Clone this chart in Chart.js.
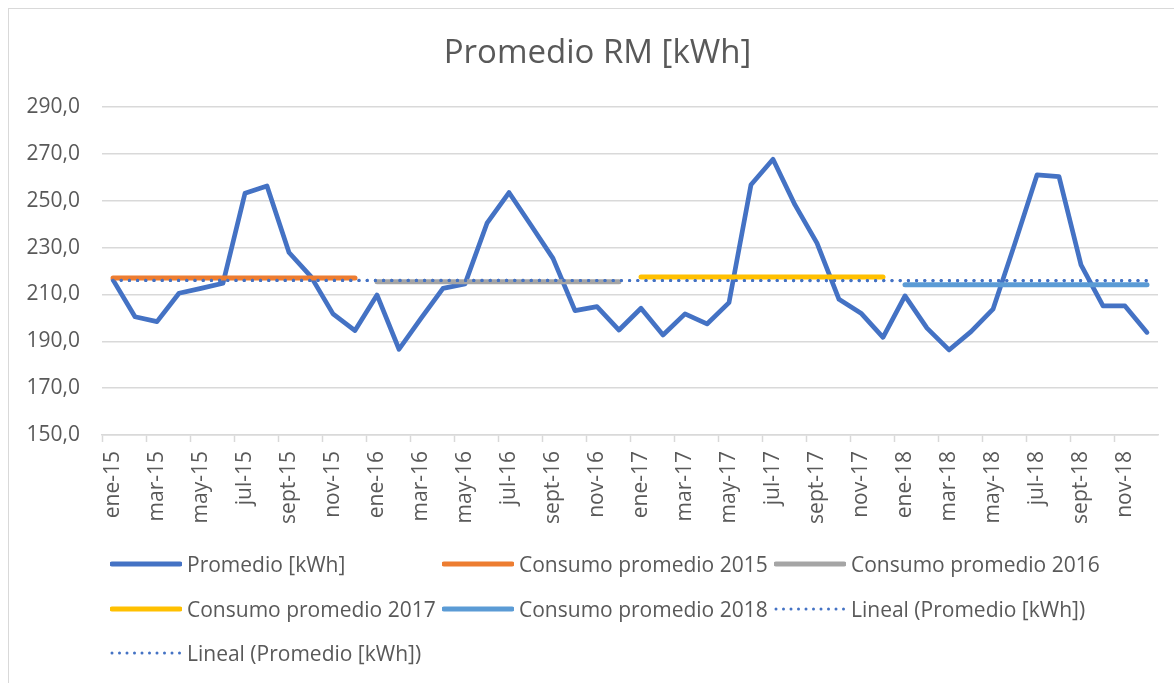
<!DOCTYPE html>
<html>
<head>
<meta charset="utf-8">
<script src="https://cdn.jsdelivr.net/npm/chart.js@4"></script>
<style>
  html, body { margin: 0; padding: 0; background: #fff; }
  #wrap { position: relative; width: 1174px; height: 683px; overflow: hidden; font-family: 'Open Sans', sans-serif; }
  #frame { position: absolute; left: 8px; top: 8px; width: 1200px; height: 700px; border: 1px solid #d9d9d9; box-sizing: border-box; }
  #chart { position: absolute; left: 0; top: 0; }
  .leg { position: absolute; height: 26px; display: flex; align-items: center; color: #595959; font-size: 21px; white-space: nowrap; }
  .leg svg { margin-right: 5px; }
</style>
</head>
<body>
<div id="wrap">
  <div id="frame"></div>
  <!-- canvas runs past the right edge like the cropped Excel frame, so the title centres where it did there -->
  <canvas id="chart" width="1195" height="683"></canvas>
  <div id="legend"></div>
</div>
<script>
// months ene-15 .. dic-18
const months = [
  'ene-15','feb-15','mar-15','abr-15','may-15','jun-15','jul-15','ago-15','sept-15','oct-15','nov-15','dic-15',
  'ene-16','feb-16','mar-16','abr-16','may-16','jun-16','jul-16','ago-16','sept-16','oct-16','nov-16','dic-16',
  'ene-17','feb-17','mar-17','abr-17','may-17','jun-17','jul-17','ago-17','sept-17','oct-17','nov-17','dic-17',
  'ene-18','feb-18','mar-18','abr-18','may-18','jun-18','jul-18','ago-18','sept-18','oct-18','nov-18','dic-18'
];

const promedio = [
  216.2, 200.5, 198.4, 210.5, 212.6, 214.8, 253.2, 256.3, 227.9, 217.6, 201.7, 194.6,
  209.8, 186.6, 199.8, 212.6, 214.5, 240.4, 253.5, 239.5, 225.4, 203.1, 204.8, 194.8,
  204.1, 192.7, 201.7, 197.4, 206.5, 256.8, 267.7, 248.2, 231.9, 207.9, 202.0, 191.7,
  209.4, 195.6, 186.3, 194.1, 203.7, 231.9, 261.0, 260.3, 222.6, 205.1, 205.1, 193.8
];

const years = ['2015', '2016', '2017', '2018'];
const yearAverages = [217.0, 215.4, 217.4, 214.1];
const yearColors = ['#ED7D31', '#A5A5A5', '#FFC000', '#5B9BD5'];

// trend line end values (first and last month)
const trendEnds = [216.0, 215.9];

const yTicks = [150, 170, 190, 210, 230, 250, 270, 290];

const gridColor = '#d9d9d9';
const textColor = '#595959';

Chart.defaults.font.family = "'Open Sans', sans-serif";
Chart.defaults.color = textColor;

// one flat segment per year
function yearLine(y) {
  return months.map((m, i) => Math.floor(i / 12) === y ? yearAverages[y] : null);
}
function trendLine() {
  return months.map((m, i) => i === 0 ? trendEnds[0] : (i === months.length - 1 ? trendEnds[1] : null));
}

const datasets = [
  {
    label: 'Promedio [kWh]',
    data: promedio,
    borderColor: '#4472C4',
    borderWidth: 4.7,
    borderJoinStyle: 'round',
    borderCapStyle: 'round',
    order: 10
  }
];
years.forEach((yr, y) => {
  datasets.push({
    label: 'Consumo promedio ' + yr,
    data: yearLine(y),
    borderColor: yearColors[y],
    borderWidth: 5,
    borderCapStyle: 'round',
    order: 5
  });
});
for (let k = 0; k < 2; k++) {
  datasets.push({
    label: 'Lineal (Promedio [kWh])',
    data: trendLine(),
    borderColor: '#4472C4',
    borderWidth: 3.2,
    borderCapStyle: 'round',
    borderDash: [0, 8.2],
    spanGaps: true,
    order: 1
  });
}
datasets.forEach(d => { d.pointRadius = 0; d.pointHoverRadius = 0; d.tension = 0; d.fill = false; });

const chart = new Chart(document.getElementById('chart'), {
  type: 'line',
  data: { labels: months, datasets: datasets },
  options: {
    responsive: false,
    animation: false,
    layout: { padding: { left: 0, right: 0, top: 0, bottom: 148 } },
    plugins: {
      legend: { display: false },
      tooltip: { enabled: false },
      title: {
        display: true,
        text: 'Promedio RM [kWh]',
        color: textColor,
        font: { size: 33, weight: 'normal', lineHeight: 1.2 },
        padding: { top: 34, bottom: 33.4 }
      }
    },
    scales: {
      x: {
        offset: true,
        grid: {
          offset: true,
          drawOnChartArea: false,
          drawTicks: true,
          tickLength: 7,
          tickWidth: 1.5,
          tickColor: ctx => ctx.index % 2 === 0 ? gridColor : 'rgba(0,0,0,0)'
        },
        border: { color: gridColor, width: 1.5 },
        ticks: {
          autoSkip: false,
          maxRotation: 90,
          minRotation: 90,
          padding: 9,
          color: textColor,
          font: { size: 21 },
          callback: (v, i) => i % 2 === 0 ? months[i] : ''
        },
        // right gap handled here so the title keeps the full canvas width
        afterFit: s => { s.height = 100; s.paddingLeft = 0; s.paddingRight = 37; }
      },
      y: {
        min: yTicks[0],
        max: yTicks[yTicks.length - 1],
        grid: { color: gridColor, lineWidth: 1.5, drawTicks: false },
        border: { display: false },
        afterBuildTicks: s => { s.ticks = yTicks.map(v => ({ value: v })); },
        ticks: {
          padding: 22,
          color: textColor,
          font: { size: 21 },
          callback: v => v.toFixed(1).replace('.', ',')
        },
        afterFit: s => { s.width = 102; }
      }
    }
  }
});

// legend in Excel-like columns
const legendEl = document.getElementById('legend');
chart.data.datasets.forEach((ds, i) => {
  const col = i % 3, row = Math.floor(i / 3);
  const item = document.createElement('div');
  item.className = 'leg';
  item.style.left = (110 + col * 332) + 'px';
  item.style.top = (564 + row * 44.5 - 13) + 'px';
  const dotted = ds.borderDash && ds.borderDash.length;
  const line = dotted
    ? '<line x1="2" y1="13" x2="70" y2="13" stroke="' + ds.borderColor + '" stroke-width="3" stroke-linecap="round" stroke-dasharray="0 7.5"/>'
    : '<line x1="2" y1="13" x2="70" y2="13" stroke="' + ds.borderColor + '" stroke-width="5" stroke-linecap="round"/>';
  item.innerHTML = '<svg width="72" height="26">' + line + '</svg><span>' + ds.label + '</span>';
  legendEl.appendChild(item);
});
</script>
</body>
</html>
